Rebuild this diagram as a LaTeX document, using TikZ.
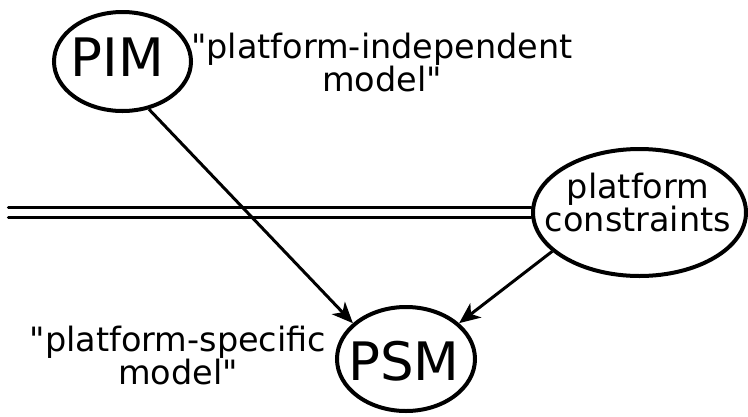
\documentclass[tikz,border=0pt]{standalone}
\usepackage{fontspec}
\setmainfont{DejaVu Sans}[Ligatures=TeXOff]
\usetikzlibrary{shapes.geometric,arrows.meta}

\tikzset{
  bubble/.style={draw, ellipse, line width=4pt, inner sep=0pt},
  bigtext/.style={font=\fontsize{53}{60}\selectfont, inner sep=0pt},
  caption/.style={align=center, inner sep=0pt},
  flow/.style={line width=3pt, -{Stealth[length=21pt, width=18pt, inset=6pt]}},
  rail/.style={line width=3.2pt, line cap=round},
}

\begin{document}
\begin{tikzpicture}[x=1pt, y=-1pt]
  \useasboundingbox (0,0) rectangle (748,416);

  % ellipses
  \node[bubble, minimum width=137pt, minimum height=99pt] (pim) at (122.5,61.5) {};
  \node[bubble, minimum width=138pt, minimum height=104pt] (psm) at (406,359) {};
  \node[bubble, minimum width=213pt, minimum height=127pt] (pc) at (639.5,212.5) {};

  % labels inside the ellipses
  \node[bigtext] (pimtext) at (117.5,57.5) {PIM};
  \node[bigtext] (psmtext) at (404,361) {PSM};
  \node[caption, font=\fontsize{33.5}{33}\selectfont] (pctext) at (638,202.75)
    {platform\\constraints};

  % free-standing captions
  \node[caption, font=\fontsize{33.5}{33}\selectfont] (pimcap) at (382,62.75)
    {"platform-independent\\model"};
  \node[caption, font=\fontsize{33.5}{31}\selectfont] (psmcap) at (178,355.75)
    {"platform-specific\\model"};

  % double rail running into the constraints ellipse
  \coordinate (railend) at (8.5,212.5);
  \draw[rail] ([yshift=4.65pt]railend) -- ([yshift=4.65pt]pc.west);
  \draw[rail] ([yshift=-4.65pt]railend) -- ([yshift=-4.65pt]pc.west);

  % transformation arrows
  \draw[flow] (pim.-61) -- (psm.146);
  \draw[flow] (pc.204) -- (psm.34);
\end{tikzpicture}
\end{document}
